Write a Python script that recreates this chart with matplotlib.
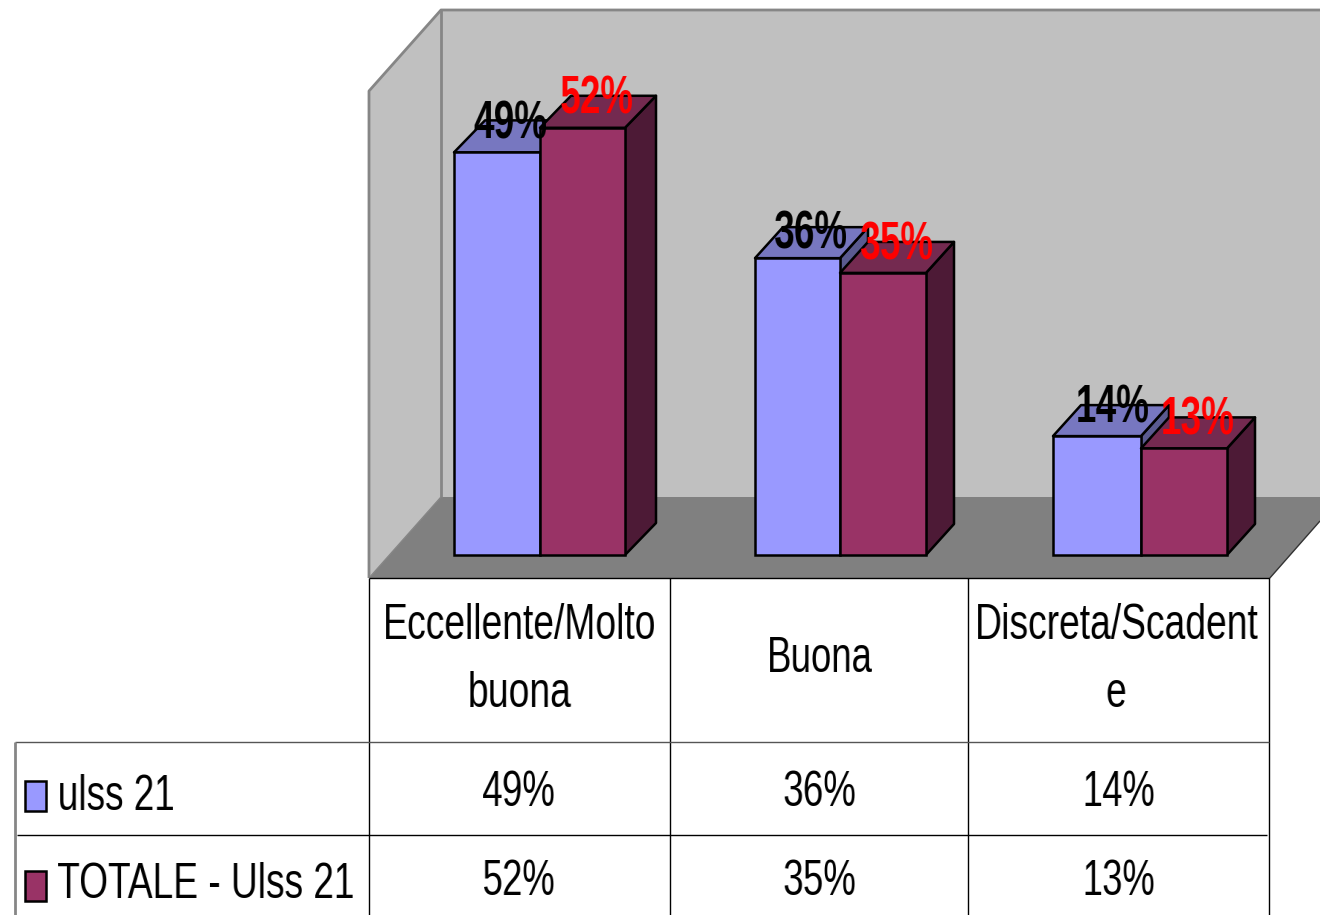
import numpy as np
import matplotlib
matplotlib.use('Agg')
import matplotlib.pyplot as plt
from matplotlib.patches import Polygon, Rectangle
from matplotlib.transforms import Affine2D

categories = ['Eccellente/Molto\nbuona', 'Buona', 'Discreta/Scadent\ne']
series_names = ['ulss 21', 'TOTALE - Ulss 21']
ulss = [49.1, 36.2, 14.5]
totale = [52.1, 34.4, 13.0]
ulss_labels = ['49%', '36%', '14%']
totale_labels = ['52%', '35%', '13%']

colors = ['#9999ff', '#993366']
tops = ['#7777c0', '#742a50']
sides = ['#5a5a90', '#4d1a36']
label_colors = ['black', 'red']

plt.rcParams['font.family'] = ['Liberation Sans', 'DejaVu Sans']

W, H = 1320, 915
BASE = 555   # pixel row of the bar bases
SCALE = 8.2  # pixels per percent

fig = plt.figure(figsize=(W/100, H/100), dpi=100)
ax = fig.add_axes([0, 0, 1, 1])
ax.set_xlim(0, W)
ax.set_ylim((BASE - H)/SCALE, BASE/SCALE)  # y axis is in percent
ax.axis('off')

# pixel coordinates for the walls and the table
px = Affine2D().scale(1, -1).translate(0, H)


def squeeze(f, anchor):
    # narrow the drawn text, the original uses a condensed face
    def flt(img, dpi):
        h, w = img.shape[:2]
        nw = max(int(round(w*f)), 1)
        a = img[..., 3:]
        pre = np.dstack([img[..., :3]*a, a])
        c = np.concatenate([np.zeros((h, 1, 4)), np.cumsum(pre, axis=1)], axis=1)
        edges = np.linspace(0, w, nw + 1)
        i0 = np.clip(edges.astype(int), 0, w - 1)
        t = (edges - i0)[None, :, None]
        vals = c[:, i0]*(1 - t) + c[:, i0 + 1]*t
        out = (vals[:, 1:] - vals[:, :-1])/(w/nw)
        alpha = np.clip(out[..., 3:], 1e-6, 1)
        res = np.dstack([np.clip(out[..., :3]/alpha, 0, 1), np.clip(out[..., 3], 0, 1)])
        ox = int((w - nw)*anchor)
        return res, ox, 0
    return flt


def poly(pts, fc, z=1):
    ax.add_patch(Polygon(pts, closed=True, fc=fc, ec='none', transform=px, zorder=z))


def line(xs, ys, color='black', lw=1.0, z=2):
    ax.plot(xs, ys, color=color, lw=lw, transform=px, zorder=z, solid_capstyle='butt')


def table_text(x, y, s, size=36, f=0.73, ha='center', **kw):
    t = ax.text(x, y, s, fontsize=size, ha=ha, va='center', transform=px, zorder=10, **kw)
    t.set_agg_filter(squeeze(f, 0.5 if ha == 'center' else 0))
    return t


# walls and floor
poly([(441, 10), (1320, 10), (1320, 497), (441, 497)], '#c0c0c0')
poly([(369, 91), (441, 10), (441, 497), (369, 578)], '#c0c0c0')
poly([(369, 578), (441, 497), (1320, 497), (1320, 521), (1269, 579)], '#808080')
grey = '#868686'
line([369, 369, 441, 1320], [578, 91, 10, 10], grey, 2)
line([441, 441], [10, 497], grey, 2)
line([369, 441], [578, 497], grey, 1)
line([1269, 1320], [579, 521], '#333333', 1)

# bars
lefts = [454, 755, 1053]
mids = [540, 840, 1141]
rights = [625, 926, 1227]
depth_x = [31, 28, 28]
depth_y = [32, 31, 31]
for i in range(3):
    dx = depth_x[i]
    dy = depth_y[i]/SCALE
    for j, vals in enumerate([ulss, totale]):
        x0 = [lefts[i], mids[i]][j]
        x1 = [mids[i], rights[i]][j]
        v = vals[i]
        z = 3 + j*2
        ax.add_patch(Polygon([(x1, 0), (x1 + dx, dy), (x1 + dx, v + dy), (x1, v)],
                             closed=True, fc=sides[j], ec='black', lw=1.8, zorder=z,
                             joinstyle='round'))
        ax.add_patch(Polygon([(x0, v), (x0 + dx, v + dy), (x1 + dx, v + dy), (x1, v)],
                             closed=True, fc=tops[j], ec='black', lw=1.8, zorder=z,
                             joinstyle='round'))
        ax.bar(x0, v, width=x1 - x0, align='edge', color=colors[j], edgecolor='black',
               linewidth=1.8, zorder=z + 1)

# data labels over the bars
label_x = [[510, 811, 1113], [596, 897, 1198]]
label_dy = [[28, 24, 28], [28, 27, 28]]
for j, (vals, labels) in enumerate(zip([ulss, totale], [ulss_labels, totale_labels])):
    for i, v in enumerate(vals):
        t = ax.text(label_x[j][i], v + label_dy[j][i]/SCALE, labels[i], color=label_colors[j],
                    fontsize=39, fontweight='bold', ha='center', va='center', zorder=10)
        t.set_agg_filter(squeeze(0.68, 0.5))

# data table
for x in [369, 670, 968, 1269]:
    line([x, x], [578, 915])
line([369, 1269], [578, 578])
line([15, 1269], [742, 742], '#555555')
line([17, 1267], [835, 835])
line([15, 15], [742, 915], grey, 2)

centers = [519, 819, 1118]
table_text(centers[0], 660, categories[0], linespacing=1.63, f=0.745)
table_text(centers[1], 659, categories[1])
table_text(centers[2] - 2, 660, categories[2], linespacing=1.63, f=0.745)

for j, (name, labels) in enumerate(zip(series_names, [ulss_labels, totale_labels])):
    y = [793, 882][j]
    ax.add_patch(Rectangle((25, [781, 871][j]), 21, 30, fc=colors[j], ec='black', lw=1.8,
                           transform=px, zorder=5))
    table_text(57, [797, 885][j], name, ha='left', f=0.74)
    for i in range(3):
        table_text(centers[i], y, labels[i])

fig.savefig('out.png', dpi=100)
